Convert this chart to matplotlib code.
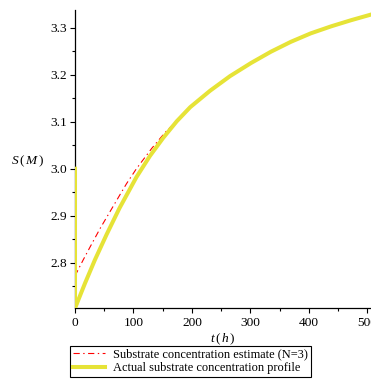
import matplotlib
matplotlib.use("Agg")
import matplotlib.pyplot as plt
from matplotlib.ticker import MultipleLocator

# Data
t_actual = [0, 0, 8, 17, 34, 54, 76, 105, 128, 151, 174, 197, 231, 265,
            301, 335, 369, 403, 438, 472, 506, 512]
s_actual = [3.000, 2.703, 2.728, 2.756, 2.806, 2.860, 2.916, 2.982, 3.027,
            3.066, 3.101, 3.131, 3.166, 3.197, 3.225, 3.249, 3.270, 3.288,
            3.303, 3.316, 3.328, 3.330]

t_est = [0, 14, 26, 43, 60, 77, 88, 105, 131, 154, 170, 197, 231, 265,
         301, 335, 369, 403, 438, 472, 506, 512]
s_est = [2.772, 2.806, 2.834, 2.873, 2.909, 2.945, 2.968, 3.000, 3.043,
         3.077, 3.097, 3.131, 3.166, 3.197, 3.225, 3.249, 3.270, 3.288,
         3.303, 3.316, 3.328, 3.330]

x_ticks = [0, 100, 200, 300, 400, 500]
y_ticks = [2.8, 2.9, 3.0, 3.1, 3.2, 3.3]

label_est = "Substrate concentration estimate (N=3)"
label_act = "Actual substrate concentration profile"

plt.rcParams['font.family'] = ['Liberation Serif', 'DejaVu Serif']
plt.rcParams['mathtext.fontset'] = 'custom'
plt.rcParams['mathtext.rm'] = 'Liberation Serif'
plt.rcParams['mathtext.it'] = 'Liberation Serif:italic'
plt.rcParams['lines.scale_dashes'] = False

fs_tick = 9.6
fs_leg = 8.9
fig = plt.figure(figsize=(3.71, 3.81), dpi=100)
ax = fig.add_axes([75/371, 1 - 308.3/381, 1 - 75/371, (308.3 - 10)/381])

ax.plot(t_est, s_est, color='#FF0000', lw=0.8, dashes=(4.5, 2.5, 1, 2.5),
        label=label_est, zorder=2)
ax.plot(t_actual, s_actual, color='#E6E337', lw=2.9, label=label_act,
        zorder=3, solid_joinstyle='round')

ax.set_xlim(0, 506)
ax.set_ylim(2.703, 3.3377)

ax.spines['top'].set_visible(False)
ax.spines['right'].set_visible(False)
for s in ['left', 'bottom']:
    ax.spines[s].set_linewidth(0.9)

ax.set_xticks(x_ticks)
ax.set_yticks(y_ticks)
ax.set_xticklabels([str(v) for v in x_ticks])
ax.set_yticklabels([f"{v:.1f}" for v in y_ticks])
ax.xaxis.set_minor_locator(MultipleLocator(50))
ax.yaxis.set_minor_locator(MultipleLocator(0.05))
ax.tick_params(which='major', direction='out', length=3.5, width=0.8,
               labelsize=fs_tick, pad=2.5)
ax.tick_params(which='minor', direction='out', length=2, width=0.8)

ax.set_xlabel(r'$t\,(\,h\,)$', fontsize=fs_tick, labelpad=2)
ax.set_ylabel(r'$S\,(\,M\,)$', fontsize=fs_tick, rotation=0)
ax.yaxis.set_label_coords(-0.162, 0.494)
ax.yaxis.label.set_verticalalignment('center')

leg = fig.legend(loc='upper left', bbox_to_anchor=(70/371, 1 - 345.7/381),
                 bbox_transform=fig.transFigure, fontsize=fs_leg, frameon=True,
                 fancybox=False, edgecolor='black', framealpha=1,
                 borderaxespad=0, borderpad=0.25, handlelength=2.6,
                 handletextpad=0.6, labelspacing=0.12)
leg.get_frame().set_linewidth(0.8)

fig.savefig('out.png', dpi=100)
